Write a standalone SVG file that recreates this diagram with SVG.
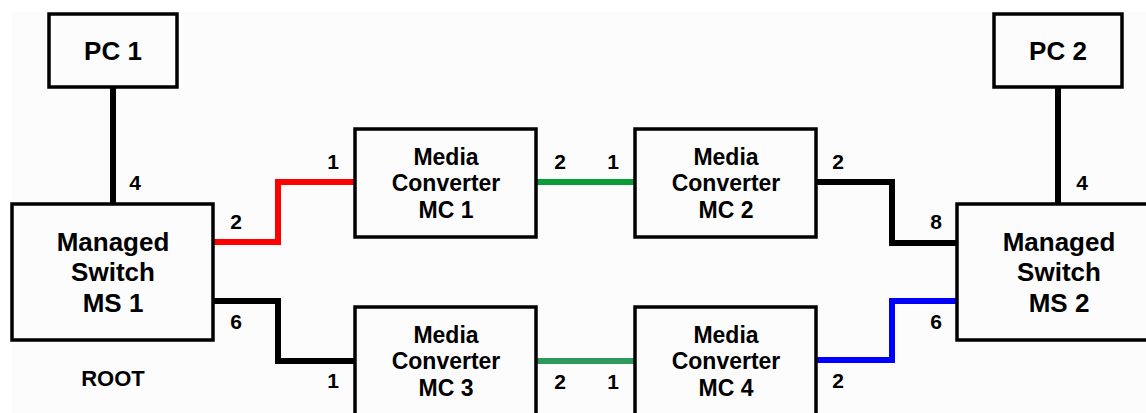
<svg xmlns="http://www.w3.org/2000/svg" width="1146" height="413" viewBox="0 0 1146 413">
<style>
.box{fill:none;stroke:#000;stroke-width:3.5}
.t{font-family:"Liberation Sans",Arial,sans-serif;font-weight:bold;font-size:26px;fill:#000;text-anchor:middle}
.m{font-family:"Liberation Sans",Arial,sans-serif;font-weight:bold;font-size:23px;fill:#000;text-anchor:middle}
.p{font-family:"Liberation Sans",Arial,sans-serif;font-weight:bold;font-size:21px;fill:#000;text-anchor:middle}
.w{fill:none;stroke-width:6;stroke-linejoin:miter}
</style>
<rect width="1146" height="413" fill="#fff"/>
<rect x="12" y="12" width="1134" height="401" fill="#fcfcfc"/>
<g id="connectors">
<line class="w" x1="113" y1="87" x2="113" y2="205" stroke="#000"/>
<line class="w" x1="1058" y1="87" x2="1058" y2="205" stroke="#000"/>
<polyline class="w" points="213,242 278,242 278,182 355,182" stroke="#ff0000"/>
<polyline class="w" points="213,301 278,301 278,361 355,361" stroke="#000"/>
<line class="w" x1="536" y1="182" x2="635" y2="182" stroke="#0a9e3a" stroke-width="7"/>
<line class="w" x1="536" y1="361" x2="635" y2="361" stroke="#2e9a5e" stroke-width="7"/>
<polyline class="w" points="816,182 892,182 892,243 957,243" stroke="#000"/>
<polyline class="w" points="816,360 892,360 892,301 957,301" stroke="#0000ff"/>
<text class="p" x="135" y="190">4</text>
<text class="p" x="236" y="229">2</text>
<text class="p" x="333" y="169">1</text>
<text class="p" x="236" y="329">6</text>
<text class="p" x="333" y="388">1</text>
<text class="p" x="560" y="169">2</text>
<text class="p" x="613" y="169">1</text>
<text class="p" x="560" y="389">2</text>
<text class="p" x="613" y="389">1</text>
<text class="p" x="838" y="169">2</text>
<text class="p" x="838" y="388">2</text>
<text class="p" x="936" y="229">8</text>
<text class="p" x="936" y="329">6</text>
<text class="p" x="1082" y="190">4</text>
</g>
<g id="pc1">
<rect class="box" x="49" y="14" width="128" height="73"/>
<text class="t" x="113" y="60">PC 1</text>
</g>
<g id="pc2">
<rect class="box" x="994" y="14" width="128" height="73"/>
<text class="t" x="1058" y="60">PC 2</text>
</g>
<g id="ms1">
<rect class="box" x="12" y="204" width="201" height="136"/>
<text class="t" x="113" y="251">Managed</text>
<text class="t" x="113" y="281">Switch</text>
<text class="t" x="113" y="312">MS 1</text>
</g>
<g id="ms2">
<rect class="box" x="957" y="204" width="201" height="136"/>
<text class="t" x="1059" y="251">Managed</text>
<text class="t" x="1059" y="281">Switch</text>
<text class="t" x="1059" y="312">MS 2</text>
</g>
<g id="mc1">
<rect class="box" x="355" y="129" width="181" height="108"/>
<text class="m" x="446" y="165">Media</text>
<text class="m" x="446" y="191">Converter</text>
<text class="m" x="446" y="218">MC 1</text>
</g>
<g id="mc2">
<rect class="box" x="635" y="129" width="181" height="108"/>
<text class="m" x="726" y="165">Media</text>
<text class="m" x="726" y="191">Converter</text>
<text class="m" x="726" y="218">MC 2</text>
</g>
<g id="mc3">
<rect class="box" x="355" y="307" width="181" height="115"/>
<text class="m" x="446" y="343">Media</text>
<text class="m" x="446" y="369">Converter</text>
<text class="m" x="446" y="396">MC 3</text>
</g>
<g id="mc4">
<rect class="box" x="635" y="307" width="181" height="115"/>
<text class="m" x="726" y="343">Media</text>
<text class="m" x="726" y="369">Converter</text>
<text class="m" x="726" y="396">MC 4</text>
</g>
<g id="root">
<text class="p" x="113" y="386" style="font-size:22px">ROOT</text>
</g>
</svg>
